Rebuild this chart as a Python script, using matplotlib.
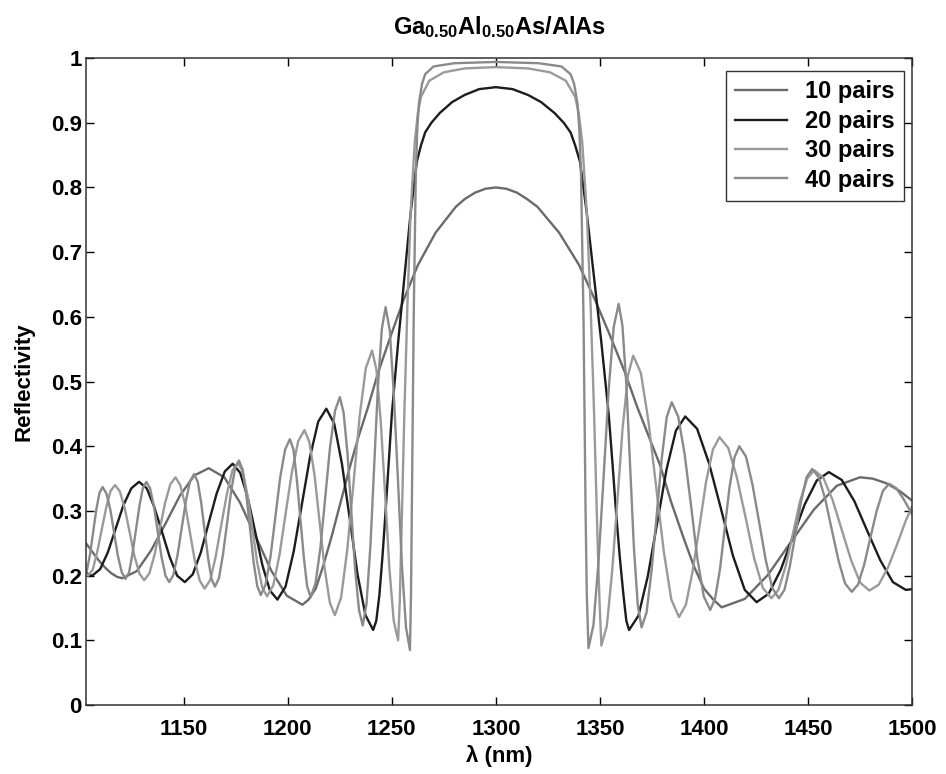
import matplotlib
matplotlib.use('Agg')
import matplotlib.pyplot as plt

# Reflectivity spectra (wavelength in nm, reflectivity)
wl_10 = [1103, 1106, 1109, 1112, 1115, 1118, 1120.5,
         1127.4, 1134.3, 1141.3, 1148.2, 1155.1, 1162,
         1169.5, 1177, 1184.5, 1192, 1199.5, 1207,
         1210, 1213.4, 1217, 1221, 1225.5, 1230, 1234, 1238.5, 1243.5, 1249.4,
         1255.5, 1262.5, 1271, 1280.7, 1285, 1290, 1295, 1300,
         1305, 1310.1, 1315, 1320, 1330.4, 1340, 1347.8, 1355, 1361.9, 1368, 1373.5, 1379,
         1384.1, 1390, 1395.1, 1400, 1404.5, 1408.5,
         1419.6, 1430.7, 1441.8, 1452.8, 1463.9, 1475,
         1481, 1487.5, 1494, 1500]
r_10 = [0.250, 0.237, 0.224, 0.213, 0.204, 0.198, 0.196,
        0.207, 0.239, 0.281, 0.324, 0.355, 0.366,
        0.352, 0.313, 0.261, 0.208, 0.169, 0.155,
        0.163, 0.18, 0.215, 0.26, 0.315, 0.37, 0.415, 0.46, 0.515, 0.57,
        0.625, 0.68, 0.73, 0.77, 0.782, 0.792, 0.798, 0.80,
        0.798, 0.792, 0.782, 0.77, 0.73, 0.68, 0.625, 0.57, 0.515, 0.46, 0.415, 0.37,
        0.315, 0.26, 0.215, 0.18, 0.163, 0.151,
        0.164, 0.201, 0.252, 0.302, 0.339, 0.352,
        0.350, 0.343, 0.331, 0.316]

wl_20 = [1103, 1104.5, 1106,
         1109.8, 1113.5, 1117.3, 1121, 1124.8, 1128.5,
         1132.2, 1135.8, 1139.5, 1143.2, 1146.8, 1150.5,
         1154.3, 1158.2, 1162, 1165.8, 1169.7, 1173.5,
         1177.1, 1180.7, 1184.3, 1187.8, 1191.4, 1195,
         1198.9, 1202.8, 1206.8, 1210.7, 1214.6, 1218.5,
         1222.3, 1226, 1229.8, 1233.5, 1237.3, 1241,
         1242.5, 1244, 1245.5, 1247, 1248.5, 1250, 1253, 1256, 1259, 1262, 1264,
         1266, 1269, 1273, 1279, 1285, 1292, 1300, 1308, 1315.4, 1321.7, 1328.2,
         1332.6, 1335.9, 1338.1, 1340.4, 1343.7, 1347.2, 1350.7, 1354.2, 1356,
         1357.7, 1359.5, 1361.3, 1362.7, 1364,
         1368.5, 1373, 1377.5, 1382, 1386.5, 1391,
         1396.7, 1402.4, 1408.2, 1413.9, 1419.6, 1425.3,
         1431.1, 1436.9, 1442.7, 1448.4, 1454.2, 1460,
         1466.2, 1472.3, 1478.5, 1484.7, 1490.8, 1497, 1500]
r_20 = [0.205, 0.201, 0.200,
        0.210, 0.236, 0.273, 0.309, 0.335, 0.345,
        0.335, 0.306, 0.268, 0.229, 0.200, 0.190,
        0.202, 0.236, 0.282, 0.327, 0.361, 0.373,
        0.359, 0.321, 0.268, 0.216, 0.177, 0.163,
        0.183, 0.237, 0.311, 0.384, 0.438, 0.458,
        0.435, 0.373, 0.287, 0.202, 0.139, 0.116,
        0.13, 0.17, 0.23, 0.30, 0.375, 0.45, 0.56, 0.66, 0.76, 0.84, 0.865,
        0.885, 0.90, 0.915, 0.932, 0.943, 0.952, 0.955, 0.952, 0.943, 0.932, 0.915,
        0.90, 0.885, 0.865, 0.84, 0.76, 0.66, 0.56, 0.45, 0.375,
        0.30, 0.23, 0.17, 0.13, 0.116,
        0.138, 0.199, 0.281, 0.364, 0.424, 0.446,
        0.427, 0.374, 0.303, 0.231, 0.178, 0.159,
        0.172, 0.209, 0.260, 0.310, 0.347, 0.36,
        0.348, 0.315, 0.269, 0.224, 0.190, 0.178, 0.179]

wl_30 = [1103, 1104,
         1106.2, 1108.3, 1110.5, 1112.7, 1114.8, 1117,
         1119.3, 1121.7, 1124, 1126.3, 1128.7, 1131,
         1133.5, 1136, 1138.5, 1141, 1143.5, 1146,
         1148.3, 1150.7, 1153, 1155.3, 1157.7, 1160,
         1162.7, 1165.3, 1168, 1170.7, 1173.3, 1176,
         1178.3, 1180.7, 1183, 1185.3, 1187.7, 1190,
         1193, 1196, 1199, 1202, 1205, 1208,
         1210.4, 1212.9, 1215.3, 1217.7, 1220.2, 1222.6,
         1225.6, 1228.6, 1231.6, 1234.5, 1237.5, 1240.5,
         1242.6, 1244.7, 1246.8, 1248.8, 1250.9, 1253,
         1253.8, 1254.5, 1256, 1257.5, 1259, 1261, 1262.5, 1264, 1268, 1275, 1285,
         1300, 1315.4, 1326, 1333.6, 1338.1, 1339.8, 1341.5, 1343.7, 1345.5, 1347.2,
         1348.9, 1349.8, 1350.7,
         1353.3, 1355.8, 1358.4, 1360.9, 1363.5, 1366,
         1369.7, 1373.3, 1377, 1380.7, 1384.3, 1388,
         1391.3, 1394.5, 1397.8, 1401, 1404.3, 1407.5,
         1411.7, 1415.8, 1420, 1424.1, 1428.3, 1432.4,
         1435.8, 1439.3, 1442.7, 1446.1, 1449.6, 1453,
         1457.4, 1461.8, 1466.3, 1470.7, 1475.1, 1479.5,
         1484, 1488.5, 1493, 1497, 1500]
r_30 = [0.203, 0.200,
        0.209, 0.235, 0.270, 0.305, 0.331, 0.340,
        0.330, 0.303, 0.267, 0.230, 0.203, 0.193,
        0.204, 0.233, 0.273, 0.312, 0.341, 0.352,
        0.340, 0.309, 0.266, 0.223, 0.192, 0.180,
        0.193, 0.229, 0.278, 0.326, 0.362, 0.375,
        0.361, 0.323, 0.272, 0.220, 0.182, 0.168,
        0.185, 0.232, 0.297, 0.361, 0.408, 0.425,
        0.406, 0.354, 0.282, 0.211, 0.158, 0.139,
        0.166, 0.241, 0.344, 0.446, 0.521, 0.548,
        0.518, 0.436, 0.324, 0.212, 0.130, 0.100,
        0.16, 0.25, 0.45, 0.62, 0.76, 0.87, 0.915, 0.94, 0.965, 0.978, 0.984,
        0.986, 0.984, 0.978, 0.965, 0.94, 0.915, 0.87, 0.76, 0.62, 0.45,
        0.25, 0.16, 0.092,
        0.122, 0.204, 0.316, 0.428, 0.510, 0.540,
        0.513, 0.439, 0.338, 0.237, 0.163, 0.136,
        0.155, 0.206, 0.275, 0.345, 0.395, 0.414,
        0.397, 0.352, 0.290, 0.227, 0.181, 0.165,
        0.178, 0.215, 0.264, 0.314, 0.350, 0.363,
        0.351, 0.317, 0.270, 0.224, 0.189, 0.177,
        0.186, 0.213, 0.25, 0.285, 0.307]

wl_40 = [1103, 1103.5, 1105, 1106.5, 1108, 1109.5, 1111,
         1112.8, 1114.7, 1116.5, 1118.3, 1120.2, 1122,
         1123.7, 1125.3, 1127, 1128.7, 1130.3, 1132,
         1133.8, 1135.7, 1137.5, 1139.3, 1141.2, 1143,
         1145, 1147, 1149, 1151, 1153, 1155,
         1156.7, 1158.3, 1160, 1161.7, 1163.3, 1165,
         1166.9, 1168.8, 1170.8, 1172.7, 1174.6, 1176.5,
         1178.3, 1180, 1181.8, 1183.5, 1185.3, 1187,
         1189.3, 1191.7, 1194, 1196.3, 1198.7, 1201,
         1202.7, 1204.3, 1206, 1207.7, 1209.3, 1211,
         1213.3, 1215.7, 1218, 1220.3, 1222.7, 1225,
         1226.8, 1228.7, 1230.5, 1232.3, 1234.2, 1236,
         1237.8, 1239.7, 1241.5, 1243.3, 1245.2, 1247,
         1249, 1250.9, 1252.9, 1254.8, 1256.8, 1258.7,
         1259.2, 1259.6, 1260.5, 1261.5, 1262.2, 1263, 1264.5, 1266, 1270, 1280,
         1300, 1320.6, 1331.5, 1335.9, 1337.6, 1339.2, 1340.1, 1340.9, 1342.1,
         1343.1, 1343.7, 1344.5,
         1346.9, 1349.3, 1351.8, 1354.2, 1356.6, 1359,
         1360.8, 1362.7, 1364.5, 1366.3, 1368.2, 1370,
         1372.4, 1374.8, 1377.3, 1379.7, 1382.1, 1384.5,
         1387.6, 1390.7, 1393.8, 1396.8, 1399.9, 1403,
         1405.3, 1407.7, 1410, 1412.3, 1414.7, 1417,
         1420.2, 1423.3, 1426.5, 1429.7, 1432.8, 1436,
         1438.7, 1441.3, 1444, 1446.7, 1449.3, 1452,
         1455.2, 1458.3, 1461.5, 1464.7, 1467.8, 1471,
         1474, 1477, 1480, 1483, 1486, 1489,
         1492.5, 1496, 1500]
r_40 = [0.203, 0.209, 0.234, 0.269, 0.303, 0.328, 0.337,
        0.327, 0.302, 0.266, 0.231, 0.205, 0.195,
        0.205, 0.233, 0.270, 0.308, 0.335, 0.345,
        0.335, 0.306, 0.268, 0.229, 0.200, 0.190,
        0.201, 0.232, 0.274, 0.315, 0.346, 0.357,
        0.345, 0.314, 0.270, 0.227, 0.195, 0.183,
        0.196, 0.232, 0.281, 0.329, 0.365, 0.378,
        0.364, 0.326, 0.274, 0.222, 0.184, 0.170,
        0.186, 0.230, 0.291, 0.351, 0.395, 0.411,
        0.395, 0.350, 0.289, 0.228, 0.183, 0.167,
        0.188, 0.244, 0.322, 0.399, 0.455, 0.476,
        0.452, 0.388, 0.300, 0.211, 0.147, 0.123,
        0.156, 0.246, 0.369, 0.492, 0.582, 0.615,
        0.579, 0.483, 0.350, 0.218, 0.120, 0.085,
        0.17, 0.30, 0.60, 0.82, 0.89, 0.93, 0.96, 0.975, 0.987, 0.992,
        0.994, 0.992, 0.987, 0.975, 0.96, 0.93, 0.89, 0.82, 0.60,
        0.30, 0.17, 0.088,
        0.124, 0.221, 0.354, 0.487, 0.584, 0.620,
        0.587, 0.495, 0.370, 0.245, 0.154, 0.120,
        0.143, 0.207, 0.294, 0.381, 0.445, 0.468,
        0.446, 0.388, 0.308, 0.227, 0.168, 0.147,
        0.164, 0.210, 0.274, 0.337, 0.383, 0.400,
        0.384, 0.341, 0.283, 0.224, 0.181, 0.165,
        0.178, 0.215, 0.265, 0.315, 0.352, 0.365,
        0.352, 0.318, 0.270, 0.223, 0.188, 0.175,
        0.186, 0.217, 0.259, 0.300, 0.331, 0.342,
        0.335, 0.318, 0.295]

labels = ['10 pairs', '20 pairs', '30 pairs', '40 pairs']
x_ticks = [1150, 1200, 1250, 1300, 1350, 1400, 1450, 1500]
y_ticks = [0, 0.1, 0.2, 0.3, 0.4, 0.5, 0.6, 0.7, 0.8, 0.9, 1]
y_tick_labels = ['0', '0.1', '0.2', '0.3', '0.4', '0.5', '0.6', '0.7', '0.8', '0.9', '1']

plt.rcParams['font.family'] = ['Liberation Sans', 'DejaVu Sans']
plt.rcParams['font.weight'] = 'bold'
plt.rcParams['mathtext.fontset'] = 'custom'
plt.rcParams['mathtext.rm'] = 'Liberation Sans:bold'
plt.rcParams['mathtext.bf'] = 'Liberation Sans:bold'
plt.rcParams['mathtext.it'] = 'Liberation Sans:bold'

fig = plt.figure(figsize=(9.46, 7.74), dpi=100)
ax = fig.add_axes([0.0909, 0.0891, 0.8732, 0.8359])

# plot data
ax.plot(wl_10, r_10, color='#6a6a6a', lw=1.7, label=labels[0])
ax.plot(wl_20, r_20, color='#1c1c1c', lw=1.7, label=labels[1])
ax.plot(wl_30, r_30, color='#9a9a9a', lw=1.7, label=labels[2])
ax.plot(wl_40, r_40, color='#8a8a8a', lw=1.7, label=labels[3])

# format plot
ax.set_xlim(1103, 1500)
ax.set_ylim(0, 1)
ax.set_xticks(x_ticks)
ax.set_yticks(y_ticks)
ax.set_yticklabels(y_tick_labels)
ax.tick_params(direction='in', top=True, right=True, length=6, width=1,
               labelsize=16)
ax.tick_params(axis='x', pad=10)
ax.tick_params(axis='y', pad=3)
for s in ax.spines.values():
    s.set_linewidth(1.1)
    s.set_color('#333333')

ax.set_title(r'Ga$_{0.50}$Al$_{0.50}$As/AlAs', fontsize=17, fontweight='bold', pad=17)
ax.set_xlabel('λ (nm)', fontsize=16, fontweight='bold', labelpad=4)
ax.set_ylabel('Reflectivity', fontsize=16, fontweight='bold', labelpad=12)

leg = ax.legend(loc='upper right', bbox_to_anchor=(0.9903, 0.980), borderaxespad=0,
                fontsize=17, fancybox=False, framealpha=1, edgecolor='#333333',
                handlelength=2.2, handletextpad=0.75, labelspacing=0.27,
                borderpad=0.4)
leg.get_frame().set_linewidth(1.0)

fig.savefig('out.png', dpi=100)
